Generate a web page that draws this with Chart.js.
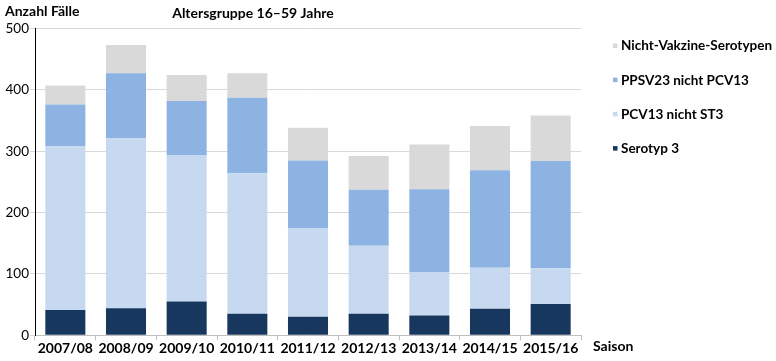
<!DOCTYPE html>
<html>
<head>
<meta charset="utf-8">
<script src="https://cdn.jsdelivr.net/npm/chart.js@4.4.1/dist/chart.umd.min.js"></script>
<style>
html,body{margin:0;padding:0;background:#fff;}
#wrap{width:776px;height:361px;position:relative;}
</style>
</head>
<body>
<div id="wrap"><canvas id="c" width="776" height="361"></canvas></div>
<script>
const categories = ["2007/08","2008/09","2009/10","2010/11","2011/12","2012/13","2013/14","2014/15","2015/16"];
const serotyp3 = [41,44,55,35,30,35,32,43,51];
const pcv13NichtST3 = [267,277,238,229,144,111,71,67,58];
const ppsv23NichtPcv13 = [68,106,89,123,111,91,135,159,175];
const nichtVakzine = [31,46,42,40,53,55,73,72,74];
const yTicks = [0,100,200,300,400,500];
const titleText = "Altersgruppe 16\u201359 Jahre";
const yTitle = "Anzahl F\u00e4lle";
const xTitle = "Saison";

const FONT = "Lato, 'DejaVu Sans', sans-serif";

const textPlugin = {
  id: 'texts',
  afterDraw(chart) {
    const ctx = chart.ctx;
    const area = chart.chartArea;
    ctx.save();
    ctx.fillStyle = '#000';
    ctx.font = "bold 14px " + FONT;
    ctx.textBaseline = 'middle';
    ctx.textAlign = 'left';
    ctx.fillText(yTitle, 5, 11);
    ctx.textAlign = 'center';
    ctx.fillText(titleText, 253, 13);
    ctx.textAlign = 'left';
    const yb = chart.scales.y.getPixelForValue(0);
    ctx.fillText(xTitle, area.right + 12, yb + 11);
    // legend (top item = last dataset)
    ctx.font = "bold 13.5px " + FONT;
    const ds = chart.data.datasets.slice().reverse();
    const y0 = 46, dy = 34.2;
    ds.forEach((d, i) => {
      const y = y0 + i * dy;
      ctx.fillStyle = d.backgroundColor;
      ctx.fillRect(area.right + 32, y - 2.5, 4.5, 4.5);
      ctx.fillStyle = '#000';
      ctx.fillText(d.label, area.right + 40, y);
    });
    ctx.restore();
  }
};

new Chart(document.getElementById('c'), {
  type: 'bar',
  data: {
    labels: categories,
    datasets: [
      {label: 'Serotyp 3', data: serotyp3, backgroundColor: '#17375e'},
      {label: 'PCV13 nicht ST3', data: pcv13NichtST3, backgroundColor: '#c6d9f1'},
      {label: 'PPSV23 nicht PCV13', data: ppsv23NichtPcv13, backgroundColor: '#8db3e2'},
      {label: 'Nicht-Vakzine-Serotypen', data: nichtVakzine, backgroundColor: '#d9d9d9'}
    ]
  },
  options: {
    responsive: false,
    animation: false,
    devicePixelRatio: 1,
    layout: {padding: {top: 28.5, left: 0, right: 195, bottom: 4}},
    datasets: {bar: {categoryPercentage: 1.0, barPercentage: 0.66}},
    plugins: {
      title: {display: false},
      tooltip: {enabled: false},
      legend: {display: false}
    },
    scales: {
      x: {
        stacked: true,
        grid: {display: true, drawOnChartArea: false, offset: true, tickLength: 5, color: '#bfbfbf'},
        border: {color: '#bfbfbf'},
        ticks: {color: '#000', font: {family: FONT, size: 14, weight: 'bold'}, padding: 0, maxRotation: 0}
      },
      y: {
        stacked: true,
        min: 0, max: 500,
        afterBuildTicks(axis) { axis.ticks = yTicks.map(v => ({value: v})); },
        afterFit(axis) { axis.width = 35; },
        grid: {color: '#d9d9d9', tickLength: 5},
        border: {color: '#000'},
        ticks: {color: '#000', font: {family: FONT, size: 13.5}, padding: 1}
      }
    }
  },
  plugins: [textPlugin]
});
</script>
</body>
</html>
